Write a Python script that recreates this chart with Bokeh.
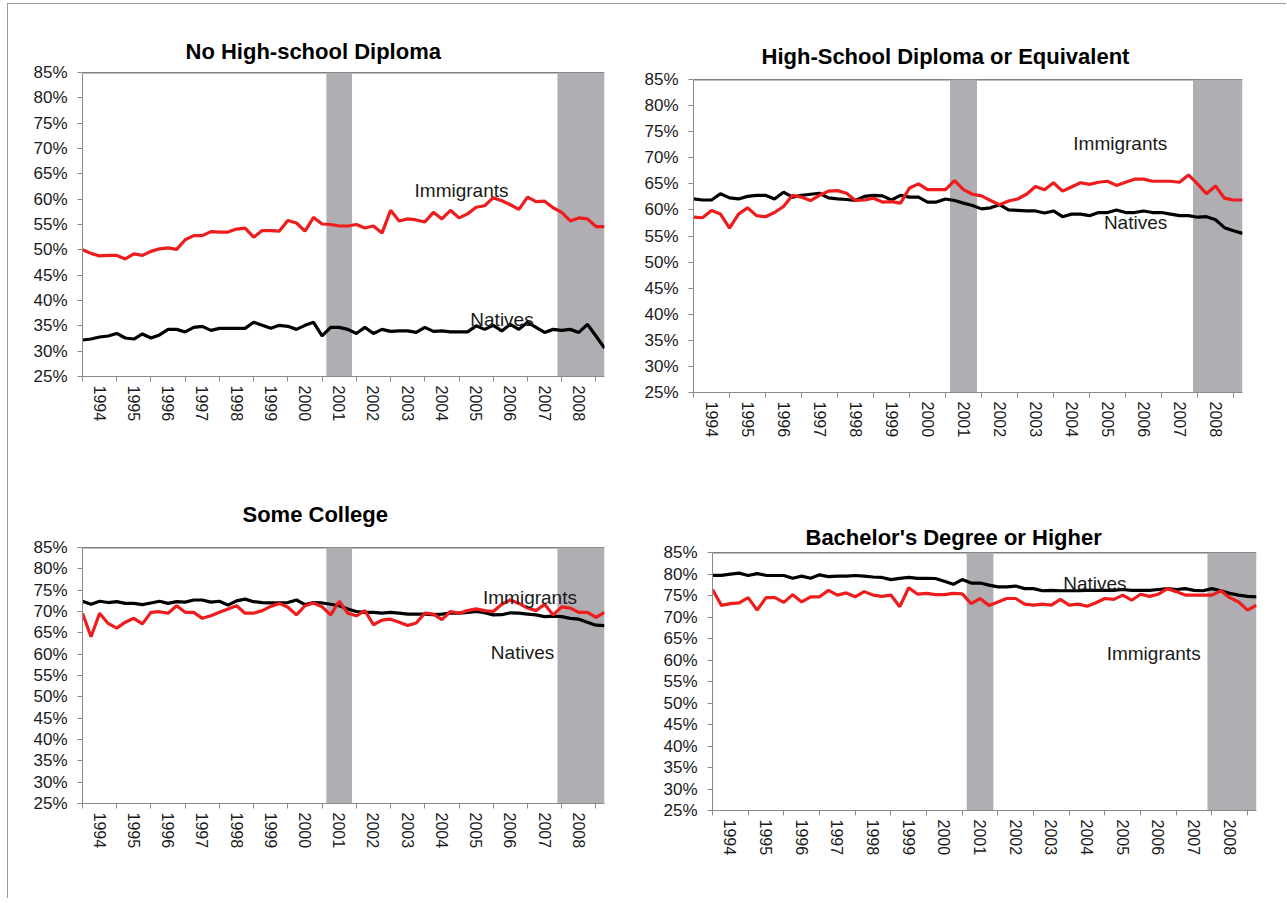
from bokeh.plotting import figure
from bokeh.layouts import row, column
from bokeh.models import FixedTicker, PrintfTickFormatter, Span, Label, Spacer
from bokeh.embed import file_html
from bokeh.resources import INLINE

# ---------------- data ----------------
quarters = [f"{y}Q{q}" for y in range(1994, 2010) for q in range(1, 5)][:62]
year_labels = [str(y) for y in range(1994, 2009)]
recession_start = [2001.125, 2007.875]
recession_end = [2001.875, 2009.25]

no_hs_imm = [50.0, 49.3, 48.8, 48.9, 48.9, 48.2, 49.2, 48.9, 49.7, 50.2,
             50.4, 50.1, 52.0, 52.8, 52.8, 53.6, 53.5, 53.5, 54.1, 54.3,
             52.5, 53.8, 53.8, 53.7, 55.8, 55.3, 53.7, 56.4, 55.1, 55.0,
             54.7, 54.7, 55.0, 54.3, 54.7, 53.3, 57.8, 55.7, 56.1, 55.9,
             55.5, 57.4, 56.1, 57.8, 56.3, 57.1, 58.4, 58.7, 60.3, 59.7,
             58.9, 58.0, 60.4, 59.5, 59.6, 58.3, 57.4, 55.7, 56.3, 56.1,
             54.6, 54.6]
no_hs_nat = [32.2, 32.4, 32.8, 33.0, 33.5, 32.6, 32.4, 33.4, 32.6, 33.2,
             34.3, 34.3, 33.8, 34.7, 34.9, 34.1, 34.5, 34.5, 34.5, 34.5,
             35.7, 35.1, 34.5, 35.1, 34.9, 34.3, 35.1, 35.7, 33.0, 34.7,
             34.7, 34.3, 33.5, 34.7, 33.5, 34.3, 33.9, 34.0, 34.0, 33.7,
             34.7, 33.9, 34.0, 33.8, 33.8, 33.8, 35.0, 34.3, 35.1, 34.0,
             35.3, 34.3, 35.7, 34.7, 33.7, 34.3, 34.1, 34.3, 33.7, 35.3,
             33.0, 30.6]

hs_imm = [58.6, 58.5, 59.9, 59.2, 56.5, 59.2, 60.4, 58.9, 58.7, 59.5,
          60.65, 62.8, 62.45, 61.8, 62.8, 63.6, 63.7, 63.2, 61.8, 61.9,
          62.25, 61.5, 61.6, 61.3, 64.2, 65.0, 63.9, 63.9, 63.9, 65.6,
          63.9, 63.0, 62.7, 61.8, 61.0, 61.7, 62.1, 63.0, 64.5, 63.85,
          65.2, 63.6, 64.4, 65.2, 64.9, 65.3, 65.5, 64.7, 65.3, 65.9,
          65.9, 65.5, 65.5, 65.5, 65.3, 66.7, 65.0, 63.1, 64.6, 62.25,
          61.9, 61.9]
hs_nat = [62.1, 61.9, 61.9, 63.1, 62.3, 62.1, 62.6, 62.8, 62.8, 62.1,
          63.4, 62.45, 62.8, 63.0, 63.2, 62.3, 62.1, 62.0, 61.8, 62.6,
          62.8, 62.7, 61.9, 62.8, 62.45, 62.45, 61.5, 61.5, 62.1, 61.8,
          61.3, 60.85, 60.2, 60.4, 61.0, 60.0, 59.9, 59.8, 59.8, 59.4,
          59.8, 58.7, 59.2, 59.2, 58.9, 59.5, 59.5, 60.0, 59.5, 59.5,
          59.8, 59.5, 59.5, 59.2, 58.9, 58.9, 58.6, 58.7, 58.1, 56.6,
          56.0, 55.5]

sc_imm = [69.6, 64.1, 69.6, 67.2, 66.1, 67.5, 68.4, 67.1, 69.8, 69.95,
          69.6, 71.35, 69.8, 69.8, 68.4, 69.0, 69.8, 70.6, 71.35, 69.6,
          69.6, 70.2, 71.2, 71.9, 71.0, 69.2, 71.35, 72.0, 71.1, 69.2,
          72.4, 69.6, 69.0, 70.2, 66.9, 68.0, 68.2, 67.5, 66.7, 67.3,
          69.6, 69.4, 68.1, 70.0, 69.6, 70.2, 70.6, 70.2, 70.0, 71.7,
          72.7, 71.9, 70.8, 70.2, 71.7, 69.2, 71.1, 70.8, 69.8, 69.8,
          68.6, 69.8]
sc_nat = [72.4, 71.7, 72.4, 72.1, 72.3, 71.9, 71.9, 71.6, 72.0, 72.4,
          71.9, 72.3, 72.2, 72.7, 72.7, 72.2, 72.4, 71.5, 72.5, 72.9,
          72.3, 72.1, 72.0, 72.0, 72.1, 72.7, 71.6, 72.1, 72.0, 71.7,
          71.35, 70.6, 70.0, 69.8, 69.8, 69.6, 69.8, 69.6, 69.4, 69.4,
          69.4, 69.25, 69.4, 69.6, 69.6, 69.8, 70.0, 69.7, 69.2, 69.25,
          69.7, 69.6, 69.4, 69.2, 68.8, 68.9, 68.8, 68.4, 68.2, 67.5,
          66.8, 66.7]

ba_imm = [76.4, 72.7, 73.1, 73.3, 74.5, 71.6, 74.5, 74.5, 73.4, 75.2,
          73.5, 74.7, 74.7, 76.2, 75.1, 75.6, 74.7, 75.9, 75.1, 74.8,
          75.1, 72.4, 76.8, 75.3, 75.5, 75.2, 75.2, 75.5, 75.4, 73.1,
          74.3, 72.7, 73.5, 74.3, 74.3, 73.0, 72.75, 73.0, 72.75, 74.1,
          72.75, 73.0, 72.5, 73.3, 74.3, 74.1, 75.1, 73.9, 75.3, 74.8,
          75.3, 76.6, 75.9, 75.1, 75.1, 75.1, 75.1, 76.1, 74.5, 73.5,
          71.6, 72.75]
ba_nat = [79.7, 79.7, 79.96, 80.2, 79.65, 80.1, 79.7, 79.65, 79.65, 79.0,
          79.5, 79.0, 79.8, 79.4, 79.5, 79.5, 79.65, 79.5, 79.3, 79.2,
          78.7, 79.0, 79.2, 79.0, 79.0, 78.95, 78.3, 77.6, 78.7, 77.9,
          77.9, 77.4, 77.0, 77.0, 77.2, 76.6, 76.6, 76.1, 76.2, 76.1,
          76.1, 76.1, 76.2, 76.2, 76.2, 76.2, 76.4, 76.2, 76.2, 76.2,
          76.4, 76.6, 76.4, 76.6, 76.2, 76.1, 76.6, 76.1, 75.5, 75.1,
          74.8, 74.7]

y_ticks = list(range(25, 90, 5))

# --------------- helpers ---------------
def qx(label):
    y, q = label.split("Q")
    return int(y) + (int(q) - 1) / 4.0

xs = [qx(s) for s in quarters]
label_pos = [int(s) + 0.5 for s in year_labels]
bound_pos = [int(s) for s in year_labels] + [int(year_labels[-1]) + 1]

FONT = "Liberation Sans"
RED = "#ee1c1c"
SHADE = "#b0aeb3"
AXIS = "#8a8a8a"
TXT = "#1a1a1a"


def panel(title, imm, nat, imm_lbl, nat_lbl, fw, fh, bl, br, bt, bb,
          t_off, t_stand):
    p = figure(frame_width=fw, frame_height=fh,
               min_border_left=bl, min_border_right=br,
               min_border_top=bt, min_border_bottom=bb,
               x_range=(xs[0], recession_end[-1]), y_range=(25, 85),
               output_backend="svg", toolbar_location=None, tools="")
    p.outline_line_color = None
    p.xgrid.visible = False
    p.ygrid.visible = False
    p.background_fill_color = "white"
    p.border_fill_color = "white"

    p.title.text = title
    p.title.align = "left"
    p.title.offset = t_off
    p.title.standoff = t_stand
    p.title.text_font = FONT
    p.title.text_font_size = "22px"
    p.title.text_font_style = "bold"
    p.title.text_color = "black"

    # top border line (under the shading)
    p.add_layout(Span(location=85, dimension="width", line_color="black",
                      line_width=1.5, level="underlay"))

    p.quad(left=recession_start, right=recession_end, bottom=25, top=85,
           fill_color=SHADE, line_color=None)

    p.line(xs, nat, line_color="black", line_width=3.2)
    p.line(xs, imm, line_color=RED, line_width=3.2)

    # y axis
    ya = p.yaxis[0]
    ya.ticker = FixedTicker(ticks=y_ticks)
    ya.formatter = PrintfTickFormatter(format="%d%%")
    ya.axis_line_color = AXIS
    ya.major_tick_line_color = AXIS
    ya.major_tick_out = 5
    ya.major_tick_in = 0
    ya.minor_tick_line_color = None
    ya.major_label_standoff = 10
    ya.major_label_text_font = FONT
    ya.major_label_text_font_size = "17px"
    ya.major_label_text_color = TXT

    # x axis
    xa = p.xaxis[0]
    xa.ticker = FixedTicker(ticks=label_pos, minor_ticks=bound_pos)
    xa.major_label_overrides = {lp: s for lp, s in zip(label_pos, year_labels)}
    xa.axis_line_color = AXIS
    xa.major_tick_line_color = None
    xa.major_tick_out = 0
    xa.major_tick_in = 0
    xa.minor_tick_line_color = AXIS
    xa.minor_tick_out = 5
    xa.minor_tick_in = 0
    xa.major_label_orientation = "vertical"
    xa.major_label_standoff = 4
    xa.major_label_text_font = FONT
    xa.major_label_text_font_size = "16px"
    xa.major_label_text_color = TXT

    for (tx, ty, txt) in (imm_lbl + ("Immigrants",), nat_lbl + ("Natives",)):
        p.add_layout(Label(x=tx, y=ty, text=txt, text_font=FONT,
                           text_font_size="19px", text_color=TXT,
                           text_baseline="middle", text_align="left"))
    return p


p1 = panel("No High-school Diploma", no_hs_imm, no_hs_nat,
           (2003.7, 61.7), (2005.33, 36.2),
           522, 304, 74, 36, 68, 74, 103, 17)
p2 = panel("High-School Diploma or Equivalent", hs_imm, hs_nat,
           (2004.55, 72.7), (2005.4, 57.5),
           549, 313, 53, 44, 75, 58, 68, 21)
p3 = panel("Some College", sc_imm, sc_nat,
           (2005.7, 73.2), (2005.93, 60.45),
           522, 256, 74, 36, 97, 95, 160, 41)
p4 = panel("Bachelor's Degree or Higher", ba_imm, ba_nat,
           (2005.05, 61.4), (2003.83, 77.9),
           544, 258, 53, 30, 102, 88, 93, 5)

right_col = column(row(p2), row(Spacer(width=19, height=448), p4))
layout = row(column(p1, p3), right_col,
             styles={"margin-top": "3px", "margin-left": "7px",
                     "border-top": "1px solid #9a9a9a",
                     "border-left": "1px solid #9a9a9a"})

open("out.html", "w").write(file_html(layout, INLINE))
